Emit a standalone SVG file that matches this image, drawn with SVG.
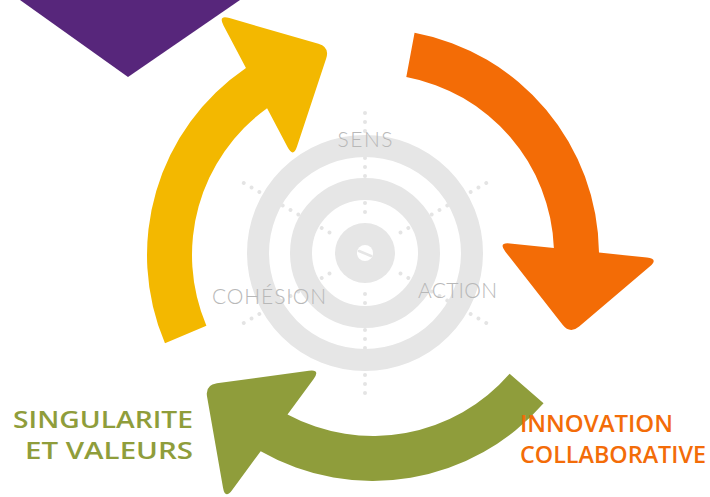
<svg xmlns="http://www.w3.org/2000/svg" xmlns:xlink="http://www.w3.org/1999/xlink" width="710" height="497" viewBox="0 0 710 497">
  <style>
    .ring { fill: none; stroke: #e6e6e6; stroke-width: 22; }
    .dot { fill: #e4e4e4; }
    .lbl { font-family: Lato, "Open Sans", "Liberation Sans", sans-serif; font-weight: 300; font-size: 21px; fill: #b8b8b8; }
    .big { font-family: "Open Sans", "Liberation Sans", sans-serif; font-weight: 600; font-size: 24px; }
    .green { fill: #8f9d3b; }
    .orange { fill: #f36c08; }
  </style>
  <defs>
    <path id="arrow" d="M 226 0 A 226 226 0 0 1 43.91 221.7 L 47.91 269.74 Q 48.9 281.7 39.59 274.14 L -32.29 215.76 Q -41.6 208.2 -33.68 199.19 L 27.58 129.51 Q 35.5 120.5 36.49 132.46 L 40.15 176.49 A 181 181 0 0 0 181 0 Z"/>
    <g id="spoke">
      <circle class="dot" cx="41" cy="0" r="2"/>
      <circle class="dot" cx="50" cy="0" r="2"/>
      <circle class="dot" cx="59" cy="0" r="2"/>
      <circle class="dot" cx="68" cy="0" r="2"/>
      <circle class="dot" cx="77" cy="0" r="2"/>
      <circle class="dot" cx="86" cy="0" r="2"/>
      <circle class="dot" cx="95" cy="0" r="2"/>
      <circle class="dot" cx="104" cy="0" r="2"/>
      <circle class="dot" cx="113" cy="0" r="2"/>
      <circle class="dot" cx="122" cy="0" r="2"/>
      <circle class="dot" cx="131" cy="0" r="2"/>
      <circle class="dot" cx="140" cy="0" r="2"/>
    </g>
  </defs>

  <g id="corner">
    <polygon points="20,0 240,0 128,77" fill="#57267b"/>
  </g>

  <g id="target">
    <g transform="translate(365,253)">
      <use xlink:href="#spoke" transform="rotate(30)"/>
      <use xlink:href="#spoke" transform="rotate(90)"/>
      <use xlink:href="#spoke" transform="rotate(150)"/>
      <use xlink:href="#spoke" transform="rotate(210)"/>
      <use xlink:href="#spoke" transform="rotate(270)"/>
      <use xlink:href="#spoke" transform="rotate(330)"/>
    </g>
    <circle class="ring" cx="365" cy="253" r="107"/>
    <circle class="ring" cx="365" cy="253" r="64"/>
    <circle cx="365" cy="253" r="30" fill="#e6e6e6"/>
    <circle cx="365" cy="253" r="8" fill="#ffffff"/>
    <line x1="359" y1="251" x2="371" y2="256" stroke="#e6e6e6" stroke-width="2.5" stroke-linecap="round"/>
  </g>

  <g id="connectors">
    <use id="arrow-yellow" xlink:href="#arrow" fill="#f3b800" transform="translate(373,255) rotate(157)"/>
    <use id="arrow-orange" xlink:href="#arrow" fill="#f36c06" transform="translate(373,255) rotate(280.6)"/>
    <use id="arrow-green" xlink:href="#arrow" fill="#8f9d3b" transform="translate(373,255) rotate(41)"/>
  </g>

  <g id="sens"><text class="lbl" x="365" y="147" text-anchor="middle" textLength="55">SENS</text></g>
  <g id="cohesion"><text class="lbl" x="212" y="304" textLength="114">COHÉSION</text></g>
  <g id="action"><text class="lbl" x="418" y="298" textLength="79">ACTION</text></g>

  <g id="singularite">
    <text class="big green" x="13" y="428" textLength="180" lengthAdjust="spacingAndGlyphs">SINGULARITE</text>
    <text class="big green" x="25" y="459" textLength="168" lengthAdjust="spacingAndGlyphs">ET VALEURS</text>
  </g>
  <g id="innovation">
    <text class="big orange" x="520" y="432" textLength="153" lengthAdjust="spacingAndGlyphs">INNOVATION</text>
    <text class="big orange" x="520" y="463" textLength="186" lengthAdjust="spacingAndGlyphs">COLLABORATIVE</text>
  </g>
</svg>
